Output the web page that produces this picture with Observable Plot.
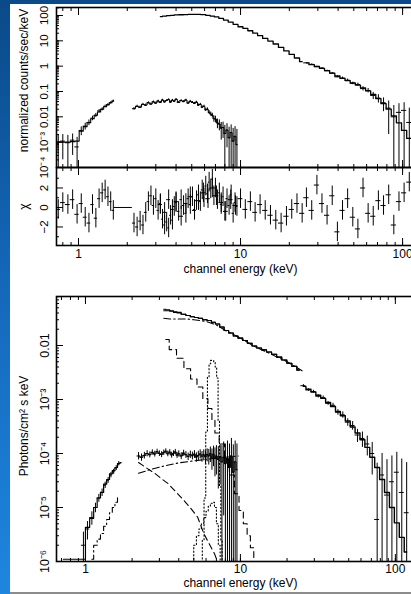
<!DOCTYPE html>
<html><head><meta charset="utf-8">
<script src="https://cdn.jsdelivr.net/npm/d3@7"></script>
<script src="https://cdn.jsdelivr.net/npm/@observablehq/plot@0.6"></script>
<style>
html,body{margin:0;padding:0;}
body{width:411px;height:594px;overflow:hidden;position:relative;background:linear-gradient(to bottom,#0a4a88 0%,#1466b8 45%,#1e86e0 100%);}
#sheet{position:absolute;left:10px;top:4px;width:401px;height:588px;background:#fff;border-bottom:2px solid #8c8c8c;}
.panel{position:absolute;left:0;width:430px;}
</style></head><body>
<div id="sheet"></div>
<div id="p1" class="panel" style="top:0px"></div>
<div id="p2" class="panel" style="top:167px"></div>
<div id="p3" class="panel" style="top:285px"></div>
<script>
// ---------------- DATA ----------------
// tick labels
const topYTickVals = [1e-4, 1e-3, 0.01, 0.1, 1, 10, 100];
const topYTickText = ["10⁻⁴", "10⁻³", "0.01", "0.1", "1", "10", "100"];
const resYTickVals = [-2, 0, 2];
const resYTickText = ["−2", "0", "2"];
const botYTickVals = [1e-6, 1e-5, 1e-4, 1e-3, 0.01];
const botYTickText = ["10⁻⁶", "10⁻⁵", "10⁻⁴", "10⁻³", "0.01"];
const xTickVals = [1, 10, 100];
const xTickText = ["1", "10", "100"];
const titleTop = "normalized counts/sec/keV";
const titleRes = "χ";
const titleBot = "Photons/cm² s keV";
const titleX = "channel energy (keV)";

// LECS (source 2) counts
const lecsE = [0.75, 0.80, 0.86, 0.92, 0.98, 1.04, 1.10, 1.16, 1.22, 1.28, 1.34, 1.40, 1.46, 1.52, 1.58, 1.64];
const lecsC = [1.0e-3, 1.1e-3, 9.5e-4, 1.2e-3, 6.5e-4, 2.9e-3, 4.3e-3, 6.0e-3, 8.8e-3, 1.15e-2, 1.7e-2, 2.0e-2, 2.6e-2, 3.0e-2, 3.6e-2, 4.2e-2];
const lecsErr = [9e-4, 9e-4, 9e-4, 9e-4, 9e-4, 1.1e-3, 1.3e-3, 1.5e-3, 1.8e-3, 2.1e-3, 2.5e-3, 2.8e-3, 3.0e-3, 3.3e-3, 3.5e-3, 3.8e-3];
const lecsM = [1.0e-3, 1.0e-3, 1.0e-3, 1.05e-3, 1.1e-3, 2.7e-3, 4.1e-3, 5.9e-3, 8.4e-3, 1.15e-2, 1.55e-2, 2.0e-2, 2.5e-2, 3.0e-2, 3.6e-2, 4.2e-2];
const lecsR = [-0.2, 0.5, 0.3, 0.8, -0.7, 0.4, -1.0, -1.6, 0.3, -1.1, 0.9, 1.5, 1.8, 1.1, 0.6, -0.3];
const gapBin = [{e1: 1.66, e2: 2.15, r: 0}];

// MECS (source 2)
const mecsE = [2.2,2.3,2.4,2.5,2.6,2.7,2.8,2.9,3.0,3.1,3.2,3.3,3.4,3.5,3.6,3.7,3.8,3.9,4.0,4.15,4.3,4.45,4.6,4.75,4.9,5.05,5.2,5.35,5.5,5.65,5.8,5.95,6.1,6.25,6.4,6.55,6.7,6.85,7.0,7.2,7.4,7.6,7.8,8.0,8.25,8.5,8.75,9.0,9.25,9.5];
const mecsC = [0.021,0.026,0.024,0.031,0.029,0.036,0.032,0.039,0.035,0.042,0.037,0.046,0.039,0.044,0.048,0.038,0.045,0.041,0.049,0.037,0.044,0.040,0.046,0.035,0.041,0.037,0.034,0.038,0.029,0.031,0.024,0.026,0.019,0.020,0.015,0.013,0.0115,0.0085,0.0082,0.0058,0.0052,0.0036,0.0038,0.0022,0.0030,0.0015,0.0024,0.0011,0.0017,0.0008];
const mecsCerr = [0.0025,0.0027,0.0027,0.003,0.003,0.0032,0.0032,0.0034,0.0034,0.0035,0.0035,0.0036,0.0036,0.0036,0.0037,0.0036,0.0037,0.0036,0.0037,0.0035,0.0036,0.0035,0.0035,0.0034,0.0034,0.0033,0.0032,0.0032,0.003,0.003,0.0028,0.0028,0.0026,0.0026,0.0025,0.0025,0.0024,0.0024,0.0024,0.0024,0.0024,0.0024,0.0024,0.0024,0.0024,0.0024,0.0024,0.0024,0.0024,0.0024];
const mecsR = [-1.6,-2.0,-1.4,-1.8,-0.5,0.6,1.2,0.2,0.9,-0.3,0.4,-1.2,-1.8,-1.5,-2.1,-0.8,-1.3,0.1,0.5,-0.4,0.8,0.2,-0.6,0.9,0.3,1.1,-0.2,0.7,1.3,0.6,1.8,1.0,2.2,1.4,2.6,1.9,2.9,1.2,2.0,0.8,1.5,0.3,1.1,-0.4,0.9,0.2,1.3,-0.6,0.5,0.1];
const mecsU = [9.0e-5,8.5e-5,9.2e-5,1.0e-4,9.5e-5,1.05e-4,9.8e-5,1.08e-4,1.0e-4,9.6e-5,1.04e-4,1.1e-4,9.9e-5,1.06e-4,9.4e-5,1.0e-4,1.07e-4,9.3e-5,9.9e-5,9.0e-5,1.02e-4,9.5e-5,8.8e-5,9.6e-5,9.1e-5,9.7e-5,8.6e-5,9.2e-5,9.8e-5,8.9e-5,9.5e-5,8.7e-5,9.6e-5,9.0e-5,1.0e-4,8.5e-5,9.7e-5,8.2e-5,9.0e-5,7.8e-5,8.8e-5,7.0e-5,8.5e-5,6.5e-5,8.0e-5,5.5e-5,9.0e-5,4.5e-5,7.0e-5,5.0e-5];
const mecsUerr = [1.4e-5,1.3e-5,1.3e-5,1.3e-5,1.2e-5,1.2e-5,1.2e-5,1.2e-5,1.2e-5,1.2e-5,1.2e-5,1.2e-5,1.2e-5,1.2e-5,1.2e-5,1.2e-5,1.2e-5,1.2e-5,1.3e-5,1.3e-5,1.3e-5,1.4e-5,1.4e-5,1.5e-5,1.5e-5,1.6e-5,1.7e-5,1.8e-5,1.9e-5,2.0e-5,2.2e-5,2.4e-5,2.6e-5,2.9e-5,3.2e-5,3.6e-5,4.0e-5,4.5e-5,5.0e-5,5.6e-5,6.2e-5,7.0e-5,7.8e-5,8.5e-5,9.0e-5,9.5e-5,1.0e-4,1.0e-4,1.0e-4,1.0e-4];

// HPGSPC (source 1)
const hpE = [3.2,3.4,3.6,3.8,4.0,4.3,4.6,4.9,5.2,5.5,5.9,6.3,6.7,7.1,7.6,8.1,8.7,9.3,10.0,10.7,11.5,12.3,13.2,14.2,15.3,16.5,17.8,19.2,20.7,22.3,24.0];
const hpC = [91,95,99,102,105,107,109,110,110,110,108,102,95,88,77,66,55,45,36,31,25,20,16,12.5,9.8,7.5,5.5,4.0,2.9,2.1,1.5];
const hpR = [0.3,-0.5,0.8,-0.2,0.6,-0.9,0.4,1.1,-0.3,0.7,1.5,0.9,2.0,1.2,0.5,-0.4,0.8,0.2,0.9,-0.2,0.6,-0.5,0.3,-0.3,-0.8,-1.3,-1.6,-0.9,-0.2,0.4,-0.6];
const hpU = [0.047,0.046,0.044,0.042,0.041,0.038,0.036,0.034,0.033,0.032,0.030,0.029,0.027,0.025,0.022,0.019,0.017,0.015,0.0137,0.0124,0.0110,0.0098,0.0090,0.0083,0.0076,0.0069,0.0061,0.0054,0.0047,0.0041,0.0035];
const hpUM = [0.044,0.044,0.043,0.041,0.040,0.038,0.036,0.034,0.033,0.032,0.030,0.029,0.027,0.025,0.022,0.019,0.017,0.015,0.0137,0.0124,0.0110,0.0098,0.0090,0.0083,0.0076,0.0069,0.0061,0.0054,0.0047,0.0041,0.0035];

// PDS
const pdsE = [25.5,27.5,29.6,31.8,34.2,36.8,39.6,42.6,45.8,49.3,53.0,57.0,61.3,65.9,70.9,76.3,82.1,88.3,95.0,102.2,110.0,118.3];
const pdsC = [1.35,1.18,0.96,0.84,0.66,0.53,0.38,0.34,0.28,0.21,0.19,0.13,0.11,0.07,0.055,0.036,0.022,0.010,0.015,0.018,0.006,0.008];
const pdsCerr = [0.05,0.045,0.04,0.04,0.035,0.035,0.03,0.03,0.03,0.025,0.025,0.025,0.022,0.022,0.02,0.02,0.02,0.018,0.018,0.018,0.016,0.016];
const pdsCM = [1.35,1.15,0.97,0.82,0.67,0.53,0.41,0.33,0.27,0.22,0.18,0.14,0.105,0.076,0.052,0.033,0.020,0.011,0.0058,0.0029,0.0014,0.0007];
const pdsR = [1.0,-0.3,2.3,0.4,-0.8,1.2,-2.5,-0.3,0.9,-1.0,-2.2,2.0,-0.6,-0.9,0.7,0.2,1.3,-1.8,0.6,1.5,2.6,-0.4];
const pdsU = [1.8e-3,1.5e-3,1.4e-3,1.15e-3,1.08e-3,8.5e-4,7.8e-4,5.8e-4,5.2e-4,3.8e-4,3.3e-4,2.2e-4,1.9e-4,1.5e-4,1.0e-4,6e-6,4e-5,1.7e-5,3e-5,4.5e-5,1.9e-5,8e-6];
const pdsUerr = [9e-5,8e-5,8e-5,8e-5,8e-5,7e-5,7e-5,7e-5,7e-5,6e-5,6e-5,6e-5,6e-5,6e-5,6e-5,6e-5,6e-5,6e-5,6e-5,6e-5,6e-5,6e-5];
const pdsUM = [1.75e-3,1.55e-3,1.38e-3,1.2e-3,1.05e-3,8.8e-4,7.4e-4,6.0e-4,5.0e-4,4.0e-4,3.1e-4,2.4e-4,1.8e-4,1.3e-4,8.5e-5,5.5e-5,3.3e-5,1.9e-5,1.0e-5,5.2e-6,2.8e-6,1.5e-6];

// model components, source 1
const c1E = [3.2, 3.5, 4.0, 4.5, 5.0, 6.0, 7.0, 8.0, 10, 12, 15, 20, 25];
const c1V = [0.032, 0.031, 0.031, 0.031, 0.030, 0.028, 0.024, 0.019, 0.0137, 0.0100, 0.0074, 0.0050, 0.0034];
const s1E = [3.3, 3.65, 4.1, 4.55, 5.0, 5.5, 5.95, 6.4, 6.7, 7.0, 7.6, 8.2, 8.8, 9.5, 10.1, 10.8, 11.3, 11.9, 12.5];
const s1V = [0.0129, 0.0084, 0.0058, 0.0037, 0.0024, 0.0017, 0.00104, 0.00068, 0.00041, 0.00024, 0.00015, 8e-5, 4e-5, 1.8e-5, 8.8e-6, 5.0e-6, 3.0e-6, 1.8e-6, 1.0e-6];
const fe1E = [5.6, 5.75, 5.9, 6.05, 6.2, 6.35, 6.5, 6.65, 6.8, 6.95, 7.1, 7.25, 7.4, 7.55, 7.7];
const fe1V = [1.0e-6, 2.5e-6, 1.5e-5, 2.5e-4, 2.6e-3, 4.6e-3, 5.3e-3, 5.3e-3, 5.0e-3, 4.0e-3, 2.5e-3, 4e-4, 2.5e-5, 2.5e-6, 1.0e-6];

// source 2 unfolded low energy + components
const lecs2E = [0.97, 1.03, 1.10, 1.16, 1.22, 1.28, 1.34, 1.40, 1.46, 1.52, 1.58, 1.64];
const lecs2U = [2.0e-6, 4.0e-6, 6.5e-6, 1.0e-5, 1.5e-5, 1.9e-5, 2.6e-5, 3.2e-5, 4.0e-5, 4.6e-5, 5.4e-5, 6.5e-5];
const lecs2Err = [1.5e-6, 1.5e-6, 1.8e-6, 2e-6, 2.5e-6, 3e-6, 3.5e-6, 4e-6, 4.5e-6, 5e-6, 5.5e-6, 6e-6];
const lecs2ME = [0.72, 0.78, 0.85, 0.92, 0.97, 1.03, 1.10, 1.16, 1.22, 1.28, 1.34, 1.40, 1.46, 1.52, 1.58, 1.64, 1.70];
const lecs2M = [1.1e-6, 1.1e-6, 1.1e-6, 1.1e-6, 1.1e-6, 4.3e-6, 6.3e-6, 1.0e-5, 1.5e-5, 1.9e-5, 2.7e-5, 3.3e-5, 4.2e-5, 4.8e-5, 5.5e-5, 6.5e-5, 6.8e-5];
const lc2E = [1.10, 1.16, 1.22, 1.28, 1.34, 1.40, 1.46, 1.52, 1.58, 1.64];
const lc2V = [1.1e-6, 2.0e-6, 2.6e-6, 3.3e-6, 4.5e-6, 6.0e-6, 8.0e-6, 1.0e-5, 1.25e-5, 1.55e-5];
const c2E = [2.2, 2.6, 3.0, 3.5, 4.0, 5.0, 6.0, 7.0, 8.0, 9.0, 9.7];
const c2V = [4.3e-5, 5.0e-5, 5.6e-5, 6.2e-5, 6.7e-5, 7.3e-5, 7.8e-5, 8.2e-5, 8.5e-5, 8.8e-5, 9.0e-5];
const s2E = [2.2, 2.5, 2.8, 3.1, 3.4, 3.8, 4.3, 4.8, 5.3, 5.8, 6.3, 6.8, 7.1];
const s2V = [6.8e-5, 5.3e-5, 4.3e-5, 3.4e-5, 2.8e-5, 2.0e-5, 1.37e-5, 9.5e-6, 6.6e-6, 3.3e-6, 2.1e-6, 1.4e-6, 1.0e-6];
const fe2E = [4.9, 5.1, 5.3, 5.5, 5.7, 5.9, 6.1, 6.3, 6.5, 6.7, 6.9, 7.1, 7.3, 7.5];
const fe2V = [1e-6, 2e-6, 3e-6, 4e-6, 5e-6, 6.5e-6, 8.5e-6, 1.05e-5, 1.2e-5, 1.25e-5, 1.0e-5, 5e-6, 2e-6, 1e-6];

// ---------------- HELPERS ----------------
const font = '"Liberation Sans", Arial, Helvetica, sans-serif';
function bins(E, V, err) {
  const n = E.length;
  return E.map((e, i) => {
    const prev = i > 0 ? E[i - 1] : e * e / E[i + 1];
    const next = i < n - 1 ? E[i + 1] : e * e / E[i - 1];
    return {e, e1: Math.sqrt(prev * e), e2: Math.sqrt(e * next), v: V[i],
      lo: err ? Math.max(V[i] - err[i], 1e-12) : V[i], hi: err ? V[i] + err[i] : V[i]};
  });
}
function resid(E, R) {
  return bins(E, R, null).map(d => ({...d, lo: d.v - 1, hi: d.v + 1}));
}
function pts(E, V) { return E.map((e, i) => ({e, v: V[i]})); }
function cross(rows, w = 1) {
  return [
    Plot.ruleX(rows, {x: "e", y1: "lo", y2: "hi", stroke: "#000", strokeWidth: w, clip: true}),
    Plot.ruleY(rows, {y: "v", x1: "e1", x2: "e2", stroke: "#000", strokeWidth: w, clip: true})
  ];
}
function line(rows, dash, curve = "step", w = 1.1) {
  return Plot.line(rows, {x: "e", y: "v", curve, stroke: "#000", strokeWidth: w, strokeDasharray: dash, clip: true});
}
const blank = () => "";
function frameTicks(xMaj, xMin, yMaj, yMin) {
  const o = {tickFormat: blank, label: null, tickPadding: 0, stroke: "#000", strokeWidth: 1};
  return [
    Plot.axisX({...o, anchor: "top", ticks: xMin, tickSize: -3}),
    Plot.axisX({...o, anchor: "top", ticks: xMaj, tickSize: -7}),
    Plot.axisX({...o, anchor: "bottom", ticks: xMin, tickSize: -3}),
    Plot.axisX({...o, anchor: "bottom", ticks: xMaj, tickSize: -7}),
    Plot.axisY({...o, anchor: "left", ticks: yMin, tickSize: -3}),
    Plot.axisY({...o, anchor: "left", ticks: yMaj, tickSize: -7})
  ];
}
function yLabels(vals, texts, size) {
  return Plot.text(vals.map((v, i) => ({v, t: texts[i]})), {y: "v", text: "t", frameAnchor: "left", dx: -12, rotate: -90, textAnchor: "middle", fontSize: size, fill: "#000", fontFamily: font});
}
function xLabels(dy, size) {
  return Plot.text(xTickVals.map((v, i) => ({v, t: xTickText[i]})), {x: "v", text: "t", frameAnchor: "bottom", dy, fontSize: size, fill: "#000", fontFamily: font});
}
function vTitle(t, dy) {
  return Plot.text([t], {text: d => d, frameAnchor: "left", dx: -32, dy, rotate: -90, textAnchor: "middle", fontSize: 12, fill: "#000", fontFamily: font});
}
const style = {background: "none", maxWidth: "none", fontFamily: font, overflow: "visible"};
function draw(id, opts) {
  const svg = Plot.plot({width: 430, marginLeft: 56, marginRight: 10, style, ...opts});
  document.getElementById(id).append(svg);
}

const xTop = [0.7315, 129];
const xBot = [0.6501, 145.3];
const yTop = [1e-4, 207];
const yBot = [1e-6, 0.0808];
const xTopMinor = d3.scaleLog().domain(xTop).ticks();
const xBotMinor = d3.scaleLog().domain(xBot).ticks();
const yTopMinor = d3.scaleLog().domain(yTop).ticks();
const yBotMinor = d3.scaleLog().domain(yBot).ticks();

// ---------------- TOP PANEL: counts ----------------
const lecsRows = bins(lecsE, lecsC, lecsErr);
const mecsRows = bins(mecsE, mecsC, mecsCerr);
const pdsRows = bins(pdsE, pdsC, pdsCerr);
draw("p1", {
  height: 170, marginTop: 7, marginBottom: 3,
  x: {type: "log", domain: xTop, axis: null},
  y: {type: "log", domain: yTop, axis: null},
  marks: [
    ...cross(lecsRows), line(pts(lecsE, lecsM)),
    ...cross(mecsRows), line(mecsRows, null, "step", 1),
    line(pts(hpE, hpC), null, "step", 1.3),
    ...cross(pdsRows), line(pts(pdsE, pdsCM), null, "step", 1.3),
    ...frameTicks([1, 10, 100], xTopMinor, topYTickVals, yTopMinor),
    Plot.frame({stroke: "#000", strokeWidth: 1.6}),
    yLabels(topYTickVals, topYTickText, 11.5),
    vTitle(titleTop, -7)
  ]
});

// ---------------- RESIDUALS ----------------
draw("p2", {
  height: 113, marginTop: 0, marginBottom: 35,
  x: {type: "log", domain: xTop, axis: null},
  y: {domain: [-3.9, 4.1], axis: null},
  marks: [
    ...cross(resid(lecsE, lecsR)),
    Plot.ruleY(gapBin, {y: "r", x1: "e1", x2: "e2", stroke: "#000", strokeWidth: 1}),
    ...cross(resid(mecsE, mecsR)),
    ...cross(resid(hpE, hpR)),
    ...cross(resid(pdsE, pdsR)),
    ...frameTicks([1, 10, 100], xTopMinor, resYTickVals, [-3, -1, 1, 3]),
    Plot.frame({stroke: "#000", strokeWidth: 1.6}),
    yLabels(resYTickVals, resYTickText, 11.5),
    vTitle(titleRes, 0),
    xLabels(12, 12),
    Plot.text([titleX], {text: d => d, frameAnchor: "bottom", x: 10, dy: 27, fontSize: 12, fill: "#000", fontFamily: font})
  ]
});

// ---------------- BOTTOM PANEL: unfolded ----------------
draw("p3", {
  height: 309, marginTop: 11, marginBottom: 33,
  x: {type: "log", domain: xBot, axis: null},
  y: {type: "log", domain: yBot, axis: null},
  marks: [
    // source 2
    line(pts(lecs2ME, lecs2M), null, "step", 1.2),
    ...cross(bins(lecs2E, lecs2U, lecs2Err)),
    line(pts(lc2E, lc2V), "6,3,1.5,3", "step", 1.1),
    ...cross(bins(mecsE, mecsU, mecsUerr)),
    line(bins(mecsE, mecsU, null), null, "step", 1),
    line(pts(c2E, c2V), "7,3,1.5,3", "linear", 1.1),
    line(pts(s2E, s2V), "6,4", "linear", 1.1),
    line(pts(fe2E, fe2V), "1.2,2.3", "step", 1.1),
    // source 1
    line(pts(hpE, hpU), null, "step", 1.1),
    line(pts(hpE, hpUM), null, "step", 1.1),
    line(pts(c1E, c1V), "7,3,1.5,3", "linear", 1.1),
    line(pts(s1E, s1V), "6,4", "step", 1.1),
    line(pts(fe1E, fe1V), "1.2,2.3", "step", 1.1),
    ...cross(bins(pdsE, pdsU, pdsUerr)),
    line(pts(pdsE, pdsUM), null, "step", 1.4),
    ...frameTicks([1, 10, 100], xBotMinor, botYTickVals, yBotMinor),
    Plot.frame({stroke: "#000", strokeWidth: 1.6}),
    yLabels(botYTickVals, botYTickText, 12.5),
    vTitle(titleBot, -3),
    xLabels(11, 12),
    Plot.text([titleX], {text: d => d, frameAnchor: "bottom", x: 10, dy: 25, fontSize: 12, fill: "#000", fontFamily: font})
  ]
});
</script>
</body></html>
